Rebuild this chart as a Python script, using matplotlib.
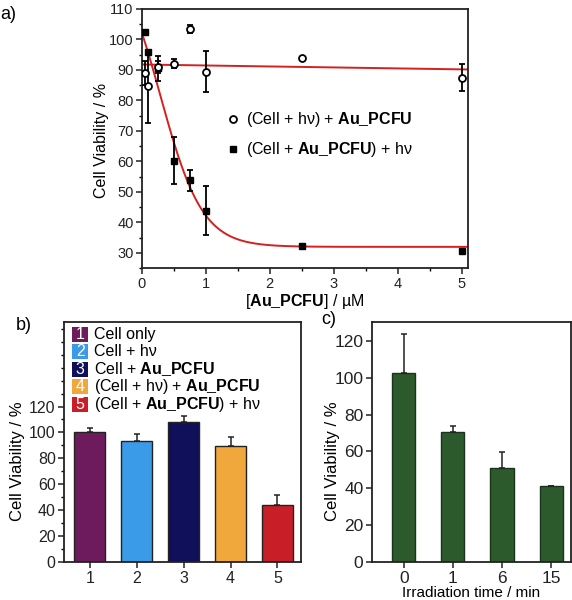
import numpy as np
import matplotlib
matplotlib.use("Agg")
import matplotlib.pyplot as plt
from matplotlib.ticker import MultipleLocator
from matplotlib.patches import Rectangle

plt.rcParams['font.family'] = ['Liberation Sans', 'DejaVu Sans']
plt.rcParams['mathtext.fontset'] = 'custom'
plt.rcParams['mathtext.rm'] = 'Liberation Sans'
plt.rcParams['mathtext.bf'] = 'Liberation Sans:bold'
plt.rcParams['font.size'] = 10

# a) dose response
conc = [0.05, 0.1, 0.25, 0.5, 0.75, 1.0, 2.5, 5.0]
open_y = [89.0, 84.6, 91.0, 92.0, 103.4, 89.5, 93.8, 87.5]
open_err = [4.0, 12.0, 2.0, 1.5, 1.2, 6.7, 0.5, 4.5]
fill_y = [102.5, 96.0, 90.5, 60.3, 53.8, 43.8, 32.3, 30.8]
fill_err = [0.6, 0.6, 4.0, 7.7, 3.5, 8.0, 0.5, 0.5]

# fit parameters (Boltzmann)
fill_fit = dict(A1=131.5, A2=32.0, x0=0.288, dx=0.33)
open_fit = dict(start=91.8, end=90.2)

# b) controls
b_pos = [1, 2, 3, 4, 5]
b_val = [100.2, 93.8, 107.9, 89.8, 44.1]
b_err = [3.6, 4.7, 4.6, 6.6, 7.9]
b_colors = ['#6e1b5e', '#3a9be8', '#10105a', '#f0a83c', '#c81e28']
b_labels = ['Cell only', 'Cell + hν', r'Cell + $\mathbf{Au\_PCFU}$',
            r'(Cell + hν) + $\mathbf{Au\_PCFU}$', r'(Cell + $\mathbf{Au\_PCFU}$) + hν']

# c) irradiation time
c_labels = ['0', '1', '6', '15']
c_val = [102.3, 70.4, 51.0, 41.1]
c_err = [21.5, 3.5, 8.8, 0.4]

fig = plt.figure(figsize=(5.72, 6.0), dpi=100)
ax = fig.add_axes([0.248, 0.553, 0.570, 0.432])
axb = fig.add_axes([0.112, 0.063, 0.414, 0.400])
axc = fig.add_axes([0.650, 0.063, 0.348, 0.400])

for a, fs in ((ax, 10.5), (axb, 11.5), (axc, 12.5)):
    for s in a.spines.values():
        s.set_linewidth(1.3)
        s.set_color('#222222')
    a.tick_params(direction='out', length=4, width=1.1, labelsize=fs, colors='#222222', pad=2)
    a.tick_params(which='minor', direction='out', length=2.5, width=1.0)

# panel a
xs = np.linspace(0, 5.1, 400)
f = fill_fit
ax.plot(xs, f['A2'] + (f['A1'] - f['A2']) / (1 + np.exp((xs - f['x0']) / f['dx'])),
        color='#d42020', lw=1.4, zorder=2)
ax.plot(xs, open_fit['start'] + (open_fit['end'] - open_fit['start']) * xs / 5.0,
        color='#d42020', lw=1.4, zorder=2)
ax.errorbar(conc, fill_y, yerr=fill_err, fmt='s', color='black', ms=5,
            capsize=2.5, elinewidth=1.3, capthick=1.3, zorder=3)
ax.errorbar(conc, open_y, yerr=open_err, fmt='o', color='black', mfc='white', ms=5,
            mew=1.3, capsize=2.5, elinewidth=1.3, capthick=1.3, zorder=4)
ax.set_xlim(0, 5.1)
ax.set_ylim(25, 110)
ax.xaxis.set_major_locator(MultipleLocator(1))
ax.xaxis.set_minor_locator(MultipleLocator(0.5))
ax.yaxis.set_major_locator(MultipleLocator(10))
ax.yaxis.set_minor_locator(MultipleLocator(5))
ax.set_yticks(range(30, 111, 10))
ax.set_ylabel('Cell Viability / %', fontsize=11.5)
ax.yaxis.set_label_coords(-0.10, 0.494)
ax.set_xlabel(r'[$\mathbf{Au\_PCFU}$] / µM', fontsize=11.5, labelpad=1)
ax.plot([0.279], [0.575], 'o', mfc='white', mec='black', mew=1.3, ms=5, transform=ax.transAxes)
ax.plot([0.279], [0.459], 's', color='black', ms=5, transform=ax.transAxes)
ax.text(0.318, 0.575, r'(Cell + hν) + $\mathbf{Au\_PCFU}$', transform=ax.transAxes,
        va='center', fontsize=11.5)
ax.text(0.318, 0.459, r'(Cell + $\mathbf{Au\_PCFU}$) + hν', transform=ax.transAxes,
        va='center', fontsize=11.5)

# panel b
axb.bar(b_pos, b_val, width=0.66, color=b_colors, edgecolor='#222222', linewidth=1.0)
axb.errorbar(b_pos, b_val, yerr=[np.zeros(5), b_err], fmt='none', ecolor='#222222',
             capsize=2.5, elinewidth=1.1, capthick=1.1)
axb.set_xlim(0.45, 5.5)
axb.set_ylim(0, 185)
axb.set_xticks(b_pos)
axb.set_yticks(range(0, 121, 20))
axb.yaxis.set_minor_locator(MultipleLocator(10))
axb.set_ylabel('Cell Viability / %', fontsize=12)
axb.yaxis.set_label_coords(-0.165, 0.42)
rows = [0.95, 0.877, 0.804, 0.731, 0.658]
for i in range(5):
    axb.add_patch(Rectangle((0.034, rows[i] - 0.031), 0.068, 0.062, transform=axb.transAxes,
                            facecolor=b_colors[i], edgecolor='none'))
    axb.text(0.068, rows[i], str(b_pos[i]), transform=axb.transAxes, ha='center', va='center',
             color='white', fontsize=11.5)
    axb.text(0.125, rows[i], b_labels[i], transform=axb.transAxes, va='center', fontsize=11.5)

# panel c
cx = np.arange(len(c_labels))
axc.bar(cx, c_val, width=0.47, color='#2c5a2c', edgecolor='#1a331a', linewidth=1.0)
axc.errorbar(cx, c_val, yerr=[np.zeros(4), c_err], fmt='none', ecolor='#222222',
             capsize=2.5, elinewidth=1.1, capthick=1.1)
axc.set_xlim(-0.65, 3.4)
axc.set_ylim(0, 130)
axc.set_xticks(cx)
axc.set_xticklabels(c_labels)
axc.set_yticks(range(0, 121, 20))
axc.set_ylabel('Cell Viability / %', fontsize=12)
axc.yaxis.set_label_coords(-0.16, 0.42)
axc.set_xlabel('Irradiation time / min', fontsize=11, labelpad=0)

fig.text(0.0, 0.99, 'a)', fontsize=13, va='top')
fig.text(0.027, 0.458, 'b)', fontsize=13, va='center')
fig.text(0.561, 0.468, 'c)', fontsize=13, va='center')

fig.savefig('out.png', dpi=100)
